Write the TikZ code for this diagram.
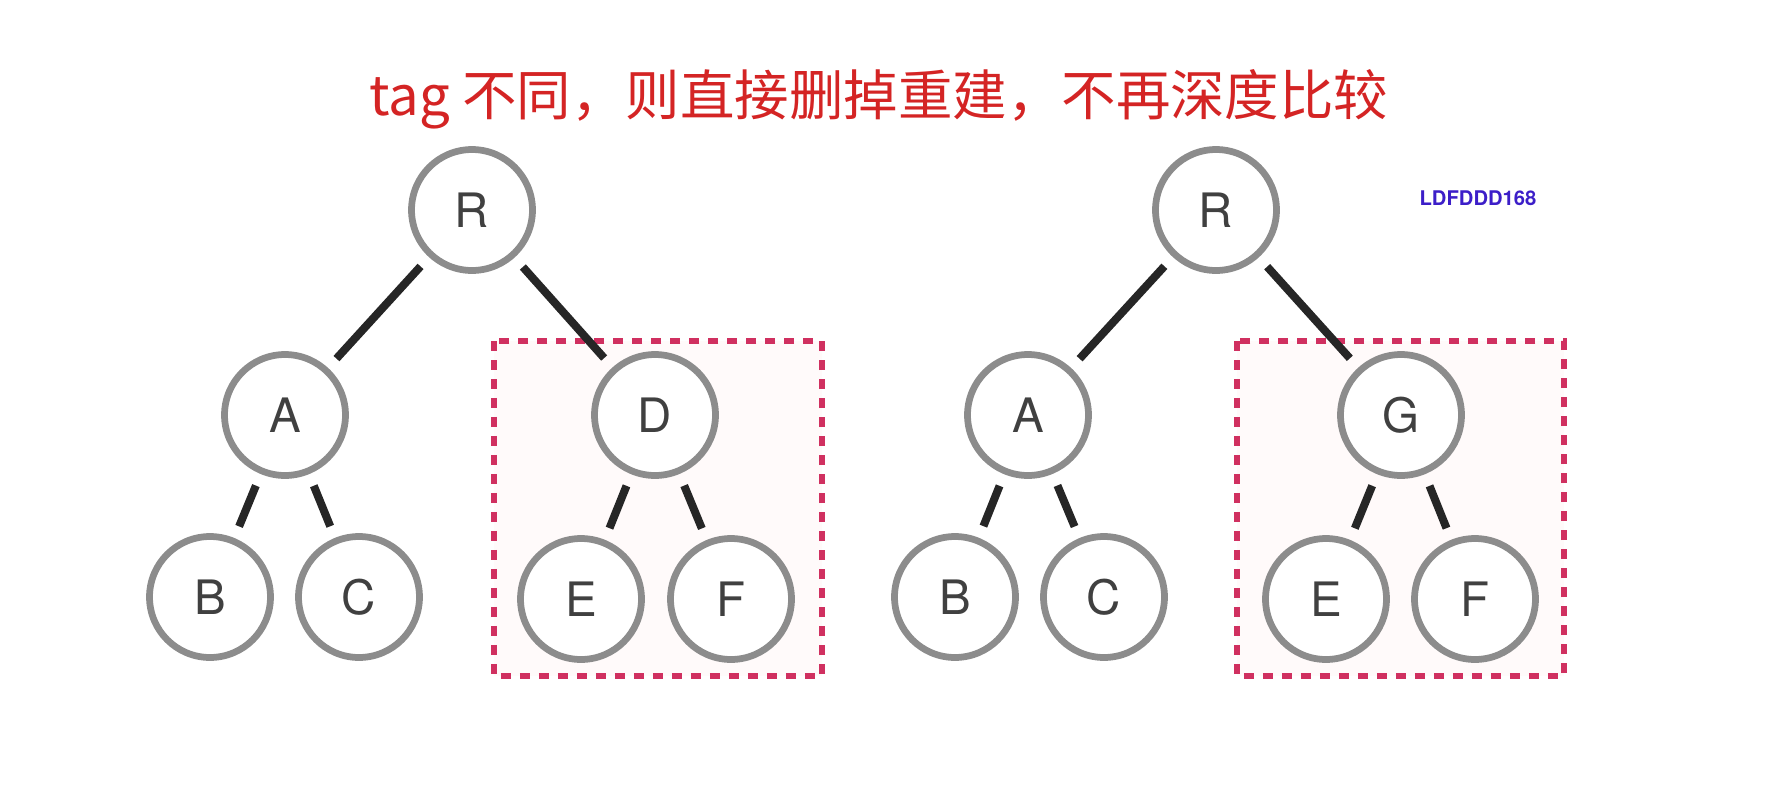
\documentclass[tikz,border=0pt]{standalone}
\usepackage{fontspec}
\setmainfont{TeX Gyre Heros}
\newfontfamily\cjk{Noto Sans CJK SC}
\usetikzlibrary{positioning}

\definecolor{titlered}{RGB}{212,36,36}
\definecolor{boxred}{RGB}{208,48,96}
\definecolor{markblue}{RGB}{60,30,200}
\definecolor{ringgray}{RGB}{140,140,140}

\begin{document}
\begin{tikzpicture}[x=0.02cm, y=-0.02cm,
		vnode/.style={circle, draw=ringgray, line width=1.35mm, fill=white,
			minimum size=2.42cm, inner sep=0pt, text=black!75,
			font=\fontsize{27}{27}\selectfont},
		vedge/.style={line width=1.6mm, black!85, shorten <=0.25cm, shorten >=0.25cm},
		subtree/.style={draw=boxred, line width=1.1mm, dash pattern=on 0.2cm off 0.18cm, fill=red!2}]
	\useasboundingbox (0, 0) rectangle (1772, 792);

	% title and mark
	\node [titlered, font=\cjk\fontsize{31}{31}\selectfont] (title) at (879, 99) {tag 不同，则直接删掉重建，不再深度比较};
	\node [markblue, font=\bfseries\fontsize{11.5}{11.5}\selectfont] (mark) at (1478, 198) {LDFDDD168};

	% subtrees that differ
	\draw [subtree] (494, 341) rectangle (822, 676);
	\draw [subtree] (1237, 341) rectangle (1564, 676);

	% old tree
	\node [vnode] (lR) at (472, 210) {R};
	\node [vnode] (lA) at (285, 415) {A};
	\node [vnode] (lD) at (655, 415) {D};
	\node [vnode] (lB) at (210, 597) {B};
	\node [vnode] (lC) at (359, 597) {C};
	\node [vnode] (lE) at (581, 599) {E};
	\node [vnode] (lF) at (731, 599) {F};
	\draw [vedge] (lR) -- (lA);
	\draw [vedge] (lR) -- (lD);
	\draw [vedge] (lA) -- (lB);
	\draw [vedge] (lA) -- (lC);
	\draw [vedge] (lD) -- (lE);
	\draw [vedge] (lD) -- (lF);

	% new tree
	\node [vnode] (rR) at (1216, 210) {R};
	\node [vnode] (rA) at (1028, 415) {A};
	\node [vnode] (rG) at (1401, 415) {G};
	\node [vnode] (rB) at (955, 597) {B};
	\node [vnode] (rC) at (1104, 597) {C};
	\node [vnode] (rE) at (1326, 599) {E};
	\node [vnode] (rF) at (1475, 599) {F};
	\draw [vedge] (rR) -- (rA);
	\draw [vedge] (rR) -- (rG);
	\draw [vedge] (rA) -- (rB);
	\draw [vedge] (rA) -- (rC);
	\draw [vedge] (rG) -- (rE);
	\draw [vedge] (rG) -- (rF);
\end{tikzpicture}
\end{document}
